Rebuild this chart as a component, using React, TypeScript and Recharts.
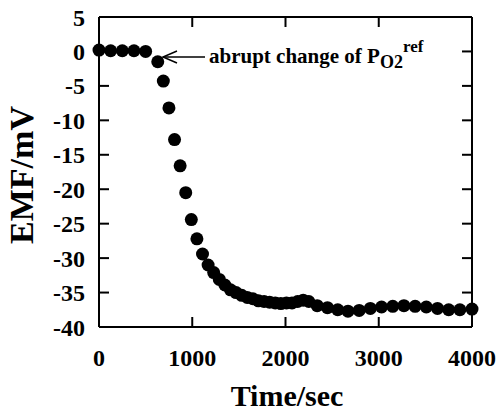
import React from "react";
import { ScatterChart, Scatter, XAxis, YAxis } from "recharts";

const FONT = '"Liberation Serif", "Times New Roman", serif';

// time (sec) and EMF (mV)
const times = [
  0, 125, 250, 375, 500, 630, 690, 750, 810, 870, 930, 990, 1050, 1110, 1170,
  1230, 1290, 1350, 1410, 1470, 1530, 1590, 1650, 1710, 1770, 1830, 1890, 1950,
  2010, 2070, 2130, 2190, 2250, 2340, 2450, 2560, 2670, 2790, 2910, 3030, 3150,
  3270, 3390, 3510, 3630, 3750, 3870, 4000,
];
const emf = [
  0.2, 0.1, 0.1, 0.1, 0.0, -1.5, -4.3, -8.2, -12.8, -16.6, -20.5, -24.4, -27.2,
  -29.4, -31.0, -32.1, -33.1, -33.9, -34.6, -35.0, -35.4, -35.7, -35.9, -36.2,
  -36.3, -36.4, -36.5, -36.6, -36.5, -36.5, -36.3, -36.1, -36.3, -36.9, -37.2,
  -37.5, -37.7, -37.6, -37.3, -37.1, -37.0, -36.9, -37.0, -37.1, -37.3, -37.5,
  -37.5, -37.4,
];
const xTicks = [0, 1000, 2000, 3000, 4000];
const yTicks = [-40, -35, -30, -25, -20, -15, -10, -5, 0, 5];

const data = times.map((t, i) => ({ t, v: emf[i] }));

const X0 = 0, X1 = 4000, Y0 = -40, Y1 = 5;
const TOP = 17;
const TICK = 10;

const frame = { stroke: "#000", strokeWidth: 2 };
const tickText = { fill: "#000", fontFamily: FONT, fontWeight: 700, fontSize: 24 };

function Dot(props: any) {
  return <circle cx={props.cx} cy={props.cy} r={6.5} fill="#000" />;
}

function YTitle() {
  return (
    <text x={21} y={175} transform="rotate(-90 21 175)" textAnchor="middle"
      dominantBaseline="central" fontFamily={FONT} fontWeight={700} fontSize={34} fill="#000">
      EMF/mV
    </text>
  );
}

// x title, inward ticks and the annotation, placed from the bottom axis' box
function XTitle(props: any) {
  const vb = props.viewBox ?? {};
  const left = vb.x ?? 99;
  const w = vb.width ?? 373;
  const bottom = vb.y ?? 327;
  const right = left + w;
  const sx = (t: number) => left + ((t - X0) / (X1 - X0)) * w;
  const sy = (v: number) => bottom - ((v - Y0) / (Y1 - Y0)) * (bottom - TOP);
  const innerX = xTicks.filter((t) => t > X0 && t < X1);
  const innerY = yTicks.filter((v) => v > Y0 && v < Y1);
  return (
    <g>
      <g stroke="#000" strokeWidth={2}>
        {innerX.map((t) => (
          <line key={`b${t}`} x1={sx(t)} x2={sx(t)} y1={bottom} y2={bottom - TICK} />
        ))}
        {innerX.map((t) => (
          <line key={`t${t}`} x1={sx(t)} x2={sx(t)} y1={TOP} y2={TOP + TICK} />
        ))}
        {innerY.map((v) => (
          <line key={`l${v}`} x1={left} x2={left + TICK} y1={sy(v)} y2={sy(v)} />
        ))}
        {innerY.map((v) => (
          <line key={`r${v}`} x1={right} x2={right - TICK} y1={sy(v)} y2={sy(v)} />
        ))}
      </g>
      <text x={287} y={395} textAnchor="middle" dominantBaseline="central"
        fontFamily={FONT} fontWeight={700} fontSize={30} fill="#000">
        Time/sec
      </text>
      <line x1={163} y1={57} x2={205} y2={57} stroke="#000" strokeWidth={1.5} />
      <polyline points="177,51 163,57 177,63" fill="none" stroke="#000" strokeWidth={1.5} />
      <text x={209} y={63} fontFamily={FONT} fontWeight={700} fontSize={21} fill="#000">
        abrupt change of P
        <tspan fontSize={18} dy={5}>O2</tspan>
        <tspan fontSize={17} dy={-16}>ref</tspan>
      </text>
    </g>
  );
}

const empty = () => <g />;

export default function App() {
  return (
    <div style={{ position: "absolute", left: 0, top: 0, width: 500, height: 416, background: "#fff" }}>
      <ScatterChart width={500} height={416} margin={{ top: TOP, right: 28, bottom: 49, left: 39 }}>
        <XAxis xAxisId="b" dataKey="t" type="number" domain={[X0, X1]} ticks={xTicks}
          orientation="bottom" height={40} axisLine={false} tickLine={false}
          tickSize={0} tickMargin={22} tick={tickText} interval={0}
          label={{ content: (p: any) => <XTitle {...p} /> }} />
        <YAxis yAxisId="l" dataKey="v" type="number" domain={[Y0, Y1]} ticks={yTicks}
          orientation="left" width={60} axisLine={false} tickLine={false}
          tickSize={0} tickMargin={14} tick={tickText} interval={0}
          label={{ content: () => <YTitle /> }} />
        {/* frame */}
        <XAxis xAxisId="bm" dataKey="t" type="number" domain={[X0, X1]}
          orientation="bottom" mirror height={9} axisLine={frame} tickLine={false} tick={false} />
        <XAxis xAxisId="tm" dataKey="t" type="number" domain={[X0, X1]}
          orientation="top" mirror height={9} axisLine={frame} tickLine={false} tick={false} />
        <YAxis yAxisId="lm" dataKey="v" type="number" domain={[Y0, Y1]}
          orientation="left" mirror width={9} axisLine={frame} tickLine={false} tick={false} />
        <YAxis yAxisId="rm" dataKey="v" type="number" domain={[Y0, Y1]}
          orientation="right" mirror width={9} axisLine={frame} tickLine={false} tick={false} />
        <Scatter data={data} xAxisId="bm" yAxisId="lm" shape={empty} isAnimationActive={false} />
        <Scatter data={data} xAxisId="tm" yAxisId="rm" shape={empty} isAnimationActive={false} />
        <Scatter data={data} xAxisId="b" yAxisId="l" shape={<Dot />} isAnimationActive={false} />
      </ScatterChart>
    </div>
  );
}
